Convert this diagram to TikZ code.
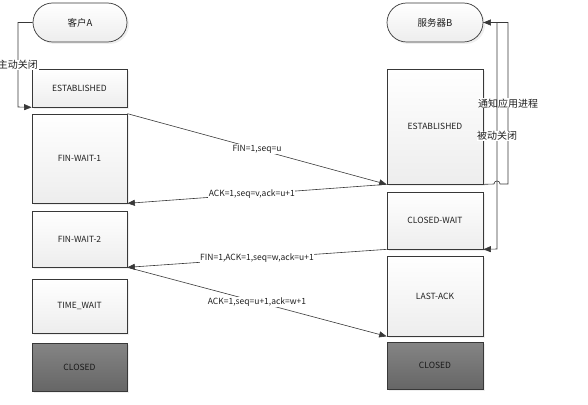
\documentclass[tikz,border=0pt]{standalone}
\usepackage{fontspec}
\setmainfont{Noto Sans CJK SC}
\usetikzlibrary{shapes.misc,shadows,arrows.meta}
\begin{document}
\begin{tikzpicture}[x=1pt,y=-1pt,
  base/.style={draw=black!78, line width=0.7pt, inner sep=0pt,
    drop shadow={opacity=0.13, shadow xshift=2pt, shadow yshift=-2pt},
    font=\fontsize{8.5}{10}\selectfont, text=black!88},
  box/.style={base, rectangle, top color=white, bottom color=black!7},
  darkbox/.style={base, rectangle, top color=black!48, bottom color=black!60, text=black!90},
  pill/.style={base, rounded rectangle, top color=white, bottom color=black!7, font=\fontsize{9.5}{11}\selectfont},
  msg/.style={draw=black!78, line width=0.6pt, -{Triangle[length=7.5pt,width=6pt]}},
  lbl/.style={fill=white, inner sep=0.5pt, text=black!88, font=\fontsize{8.5}{10}\selectfont},
  cjk/.style={fill=white, inner sep=0.5pt, text=black!88, font=\fontsize{10}{11}\selectfont}
]
\useasboundingbox (0,0) rectangle (588,404);
% left column
\node[pill, minimum width=94pt, minimum height=39pt] (pA) at (80,22.5) {客户A};
\node[box, minimum width=95pt, minimum height=38pt] (estA) at (79.5,88) {ESTABLISHED};
\node[box, minimum width=95pt, minimum height=89pt] (fw1) at (79.5,158.5) {FIN-WAIT-1};
\node[box, minimum width=95pt, minimum height=56pt] (fw2) at (79.5,239) {FIN-WAIT-2};
\node[box, minimum width=95pt, minimum height=54pt] (tw) at (79.5,306) {TIME\_WAIT};
\node[darkbox, minimum width=95pt, minimum height=48pt] (clA) at (79.5,367) {CLOSED};
% right column
\node[pill, minimum width=96pt, minimum height=39pt] (pB) at (435,22.5) {服务器B};
\node[box, minimum width=96pt, minimum height=115pt] (estB) at (435,126.5) {ESTABLISHED};
\node[box, minimum width=96pt, minimum height=57pt] (cw) at (435,220.5) {CLOSED-WAIT};
\node[box, minimum width=96pt, minimum height=80pt] (la) at (435,296) {LAST-ACK};
\node[darkbox, minimum width=96pt, minimum height=47pt] (clB) at (435,365.5) {CLOSED};
% messages
\draw[msg] (fw1.north east) -- node[lbl]{FIN=1,seq=u} (estB.south west);
\draw[msg] (estB.south west) -- node[lbl, pos=0.52]{ACK=1,seq=v,ack=u+1} (fw1.south east);
\draw[msg] (cw.south west) -- node[lbl]{FIN=1,ACK=1,seq=w,ack=u+1} (fw2.south east);
\draw[msg] (fw2.south east) -- node[lbl]{ACK=1,seq=u+1,ack=w+1} (la.south west);
% loops
\draw[msg] (pA.west) -- (18,22.5) -- node[cjk]{主动关闭} (18,107) -- (estA.south west);
\draw[msg] (estB.south east) -- (494,184) .. controls (494,180) and (500,180) .. (500,184) -- (508,184) -- node[cjk]{通知应用进程} (508,22.5) -- (pB.east);
\draw[msg] (pB.east) -- (497,22.5) -- node[cjk]{被动关闭} (497,249) -- (cw.south east);
\end{tikzpicture}
\end{document}
